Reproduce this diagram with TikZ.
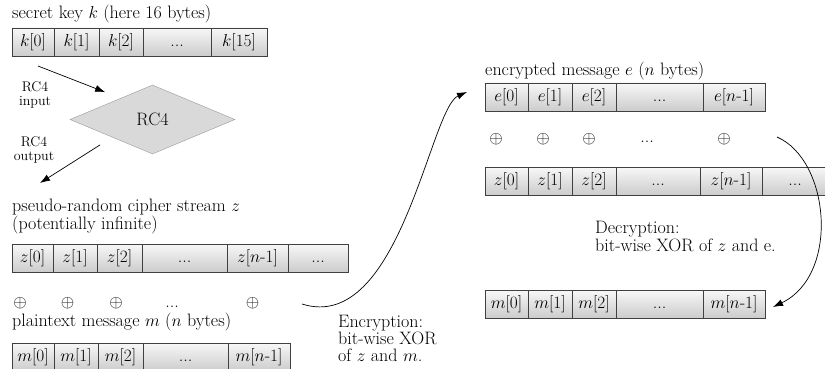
\documentclass[tikz,border=0pt]{standalone}
\usepackage{amsmath}
\usepackage{amssymb}
\usepackage{tikz}
\usetikzlibrary{positioning,shapes.geometric,arrows.meta}

\begin{document}
\begin{tikzpicture}[x=1pt,y=-1pt,
    every node/.style={font=\fontsize{18}{15}\selectfont},
    cell/.style={draw=black!75,line width=0.8pt,top color=black!3,bottom color=black!20,minimum height=28pt,text height=13.5pt,text depth=4.5pt,inner sep=0pt,outer sep=0pt},
    lbl/.style={anchor=base west,inner sep=0pt},
    smalllbl/.style={anchor=base,inner sep=0pt,font=\fontsize{14}{11}\selectfont},
    arr/.style={-{Latex[length=10pt,width=7pt]},line width=0.7pt}]
    \useasboundingbox (0,0) rectangle (825,369);

    % secret key
    \node[lbl] (keylabel) at (12,19) {secret key $k$ (here 16 bytes)};
    \node[cell,minimum width=42pt,anchor=north west] (k0) at (12,28) {$k[0]$};
    \node[cell,minimum width=45pt,right=0pt of k0] (k1) {$k[1]$};
    \node[cell,minimum width=44pt,right=0pt of k1] (k2) {$k[2]$};
    \node[cell,minimum width=68pt,right=0pt of k2] (kdots) {...};
    \node[cell,minimum width=56pt,right=0pt of kdots] (k15) {$k[15]$};

    % RC4
    \node[diamond,draw=black!40,fill=black!15,minimum width=165pt,minimum height=69pt,inner sep=0pt,shape aspect=2.4] (rc4) at (152.5,119.5) {RC4};
    \node[smalllbl] (inlabel) at (35,92) {RC4};
    \node[smalllbl] (inlabelb) at (35,106) {input};
    \node[smalllbl] (outlabel) at (34,146) {RC4};
    \node[smalllbl] (outlabelb) at (34,160) {output};
    \coordinate (outtip) at (40,183);
    \draw[arr] ([shift={(5,10)}]k0.south) -- ([shift={(-6,-10)}]rc4.north west);
    \draw[arr] ([shift={(-11,8)}]rc4.south west) -- (outtip);

    % cipher stream (left)
    \node[lbl] (zlabel) at (12,211) {pseudo-random cipher stream $z$};
    \node[lbl] (zlabelb) at (12,229) {(potentially infinite)};
    \node[cell,minimum width=41pt,anchor=north west] (z0) at (12,244) {$z[0]$};
    \node[cell,minimum width=44pt,right=0pt of z0] (z1) {$z[1]$};
    \node[cell,minimum width=45pt,right=0pt of z1] (z2) {$z[2]$};
    \node[cell,minimum width=85pt,right=0pt of z2] (zdots) {...};
    \node[cell,minimum width=61pt,right=0pt of zdots] (zn) {$z[n$-$1]$};
    \node[cell,minimum width=60pt,right=0pt of zn] (zmore) {...};

    \foreach \x/\nm in {20/xa,67.5/xb,116/xc,252.5/xd}
        \node (\nm) at (\x,303) {$\oplus$};
    \node[anchor=base] (xdots) at (172,307) {...};

    % plaintext
    \node[lbl] (mlabel) at (12,326) {plaintext message $m$ ($n$ bytes)};
    \node[cell,minimum width=42pt,anchor=north west] (m0) at (12,343) {$m[0]$};
    \node[cell,minimum width=44pt,right=0pt of m0] (m1) {$m[1]$};
    \node[cell,minimum width=45pt,right=0pt of m1] (m2) {$m[2]$};
    \node[cell,minimum width=85pt,right=0pt of m2] (mdots) {...};
    \node[cell,minimum width=62pt,right=0pt of mdots] (mn) {$m[n$-$1]$};

    % encrypted message
    \node[lbl] (elabel) at (485,75) {encrypted message $e$ ($n$ bytes)};
    \node[cell,minimum width=43pt,anchor=north west] (e0) at (485,83) {$e[0]$};
    \node[cell,minimum width=44pt,right=0pt of e0] (e1) {$e[1]$};
    \node[cell,minimum width=44pt,right=0pt of e1] (e2) {$e[2]$};
    \node[cell,minimum width=87pt,right=0pt of e2] (edots) {...};
    \node[cell,minimum width=62pt,right=0pt of edots] (en) {$e[n$-$1]$};

    \foreach \x/\nm in {496/ya,543/yb,589/yc,724/yd}
        \node (\nm) at (\x,139) {$\oplus$};
    \node[anchor=base] (ydots) at (647,142) {...};

    % cipher stream (right)
    \node[cell,minimum width=43pt,anchor=north west] (zr0) at (485,167) {$z[0]$};
    \node[cell,minimum width=44pt,right=0pt of zr0] (zr1) {$z[1]$};
    \node[cell,minimum width=44pt,right=0pt of zr1] (zr2) {$z[2]$};
    \node[cell,minimum width=84pt,right=0pt of zr2] (zrdots) {...};
    \node[cell,minimum width=62pt,right=0pt of zrdots] (zrn) {$z[n$-$1]$};
    \node[cell,minimum width=66pt,right=0pt of zrn] (zrmore) {...};

    % decrypted message
    \node[lbl] (declabel) at (595,233) {Decryption:};
    \node[lbl] (declabelb) at (595,251) {bit-wise XOR of $z$ and e.};
    \node[cell,minimum width=43pt,anchor=north west] (mr0) at (485,290) {$m[0]$};
    \node[cell,minimum width=44pt,right=0pt of mr0] (mr1) {$m[1]$};
    \node[cell,minimum width=44pt,right=0pt of mr1] (mr2) {$m[2]$};
    \node[cell,minimum width=87pt,right=0pt of mr2] (mrdots) {...};
    \node[cell,minimum width=62pt,right=0pt of mrdots] (mrn) {$m[n$-$1]$};

    % encryption / decryption arrows
    \node[lbl] (enclabel) at (338,327) {Encryption:};
    \node[lbl] (enclabelb) at (338,344) {bit-wise XOR};
    \node[lbl] (enclabelc) at (338,361) {of $z$ and $m$.};
    \coordinate (encstart) at (302,304);
    \coordinate (decstart) at (777,137);
    \draw[arr] (encstart) .. controls (400,335) and (430,108) .. ([shift={(-18,-5)}]e0.west);
    \draw[arr] (decstart) .. controls (830,160) and (840,275) .. ([shift={(8,3)}]mrn.east);
\end{tikzpicture}
\end{document}
